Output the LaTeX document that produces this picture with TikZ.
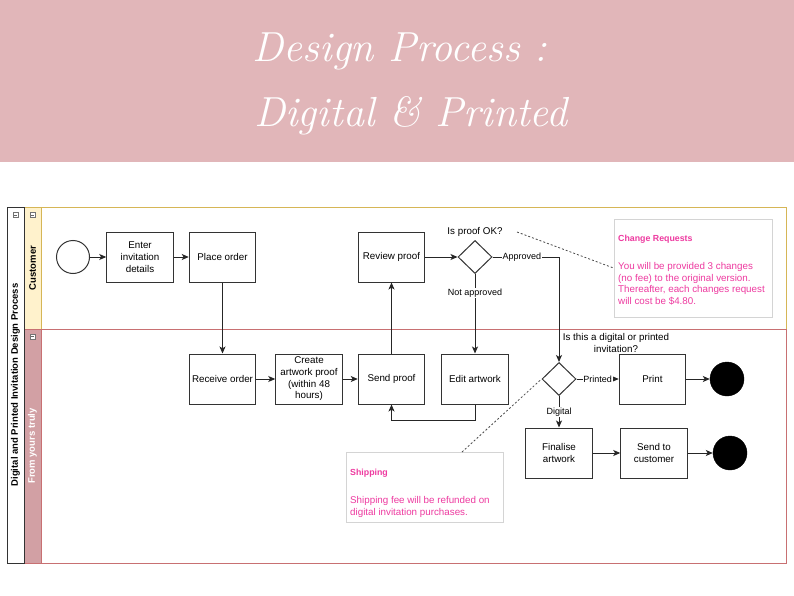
\documentclass[tikz,border=0pt]{standalone}
\usepackage{fontspec}
\setsansfont{Liberation Sans}
\usetikzlibrary{arrows.meta,shapes.geometric,calc}
\definecolor{banner}{RGB}{225,182,185}
\definecolor{laneY}{RGB}{255,242,204}
\definecolor{laneYb}{RGB}{214,182,86}
\definecolor{laneR}{RGB}{210,160,164}
\definecolor{laneRb}{RGB}{200,112,114}
\definecolor{notepink}{RGB}{238,58,160}
\definecolor{notegray}{RGB}{212,212,212}
\begin{document}
\begin{tikzpicture}[x=1pt,y=-1pt,
  every node/.style={font=\sffamily\fontsize{9.8}{11.7}\selectfont, text=black},
  task/.style={draw=black!80, line width=1pt, minimum width=66.5pt, minimum height=50pt, align=center, inner sep=1pt},
  gate/.style={diamond, draw=black!80, line width=1pt, minimum width=34pt, minimum height=33pt, inner sep=0pt},
  evstart/.style={circle, draw=black!80, line width=1pt, minimum size=33pt, inner sep=0pt},
  evend/.style={circle, fill=black, draw=black, minimum size=34pt, inner sep=0pt},
  flow/.style={line width=1pt, draw=black!85, -{Stealth[length=7pt,width=6pt,inset=1.8pt]}},
  lbl/.style={font=\sffamily\fontsize{9}{10.5}\selectfont, fill=white, inner sep=0.8pt},
  assoc/.style={dash pattern=on 2pt off 2pt, line width=0.8pt, draw=black!70},
  notebox/.style={draw=notegray, line width=0.9pt, fill=white},
  notetext/.style={text=notepink, align=left, inner sep=0pt, anchor=north west},
  notehead/.style={text=notepink, inner sep=0pt, anchor=west, font=\sffamily\bfseries\fontsize{8.8}{10}\selectfont},
  titletext/.style={text=white, font=\rmfamily\itshape\fontsize{42}{48}\selectfont, anchor=base},
  lanehead/.style={rotate=90, font=\sffamily\bfseries\fontsize{9.5}{11}\selectfont},
  minusicon/.style={draw=black!55, line width=0.4pt, fill=white}
]
\useasboundingbox (0,0) rectangle (794,596);
\fill[white] (0,0) rectangle (794,596);
% banner
\fill[banner] (0,0) rectangle (794,162);
\node[titletext] (title1) at (400,62) {Design Process :};
\node[titletext] (title2) at (411,127) {Digital \& Printed};

% pool and lanes
\fill[laneY] (24,207) rectangle (41,329);
\fill[laneR] (24,329) rectangle (41,563);
\draw[laneYb, line width=0.9pt] (24,207) rectangle (786,329);
\draw[laneRb, line width=0.9pt] (24,329) rectangle (786,563);
\draw[laneYb, line width=0.9pt] (41,207) -- (41,329);
\draw[laneRb, line width=0.9pt] (41,329) -- (41,563);
\draw[black!80, line width=0.9pt] (7,207) rectangle (24,563);
\node[lanehead] (pooltitle) at (15.5,385) {Digital and Printed Invitation Design Process};
\node[lanehead] (lane1) at (32.5,268) {Customer};
\node[lanehead, text=white] (lane2) at (32.5,446) {From yours truly};
% collapse icons
\draw[minusicon] (13,212.5) rectangle (18,217.5);
\draw[black!60, line width=0.4pt] (14,215) -- (17,215);
\draw[minusicon] (30,212.5) rectangle (35,217.5);
\draw[black!60, line width=0.4pt] (31,215) -- (34,215);
\draw[minusicon] (30,334) rectangle (35,339);
\draw[black!60, line width=0.4pt] (31,336.5) -- (34,336.5);

% nodes
\node[evstart] (start) at (73,257) {};
\node[task] (enter) at (140,257) {Enter\\invitation\\details};
\node[task] (place) at (222.5,257) {Place order};
\node[task] (review) at (391.5,257) {Review proof};
\node[gate] (g1) at (475,257) {};
\node (q1) at (475,232) {Is proof OK?};
\node[task] (receive) at (222.5,379) {Receive order};
\node[task] (create) at (309,379) {Create\\artwork proof\\(within 48\\hours)};
\node[task] (send) at (391.5,379) {Send proof};
\node[task] (edit) at (475,379) {Edit artwork};
\node[gate] (g2) at (559,379) {};
\node[align=center] (q2) at (616,343) {Is this a digital or printed\\invitation?};
\node[task] (print) at (652.5,379) {Print};
\node[evend] (end1) at (727,379) {};
\node[task] (final) at (559,453) {Finalise\\artwork};
\node[task] (sendc) at (654,453) {Send to\\customer};
\node[evend] (end2) at (730,453) {};

% notes
\node[notebox, minimum width=158pt, minimum height=98pt] (n1) at (693,268) {};
\node[notehead] (n1t) at (618,239) {Change Requests};
\node[notetext] (n1b) at (618,262) {You will be provided 3 changes\\(no fee) to the original version.\\Thereafter, each changes request\\will cost be \$4.80.};
\node[notebox, minimum width=157pt, minimum height=70pt] (n2) at (424.5,487) {};
\node[notehead] (n2t) at (350,473) {Shipping};
\node[notetext] (n2b) at (350,496) {Shipping fee will be refunded on\\digital invitation purchases.};

% connectors
\draw[flow] (start) -- (enter);
\draw[flow] (enter) -- (place);
\draw[flow] (place) -- (receive);
\draw[flow] (receive) -- (create);
\draw[flow] (create) -- (send);
\draw[flow] (send) -- (review);
\draw[flow] (review) -- (g1);
\draw[flow] (g1) -- node[lbl, pos=0.24] {Not approved} (edit);
\draw[flow] (g1.east) -| node[lbl, pos=0.22] {Approved} (g2.north);
\draw[flow] (edit.south) -- ++(0,16) -| (send.south);
\draw[flow] (g2) -- node[lbl] {Printed} (print);
\draw[flow] (g2) -- node[lbl] {Digital} (final);
\draw[flow] (print) -- (end1);
\draw[flow] (final) -- (sendc);
\draw[flow] (sendc) -- (end2);
\coordinate (c1) at (517,232);
\coordinate (c2) at (462,452);
\draw[assoc] (c1) -- (n1.west);
\draw[assoc] (c2) -- (g2.west);
\end{tikzpicture}
\end{document}
